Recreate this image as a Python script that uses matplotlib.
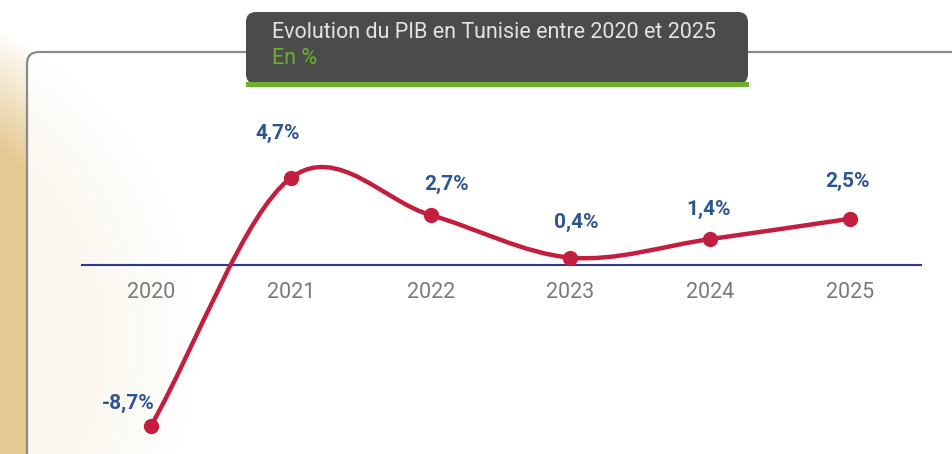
import numpy as np
import matplotlib
matplotlib.use("Agg")
import matplotlib.pyplot as plt
from matplotlib.patches import FancyBboxPatch, Rectangle, PathPatch
from matplotlib.path import Path

# data
years = [2020, 2021, 2022, 2023, 2024, 2025]
pib = [-8.7, 4.7, 2.7, 0.4, 1.4, 2.5]
labels = ["-8,7%", "4,7%", "2,7%", "0,4%", "1,4%", "2,5%"]
title = "Evolution du PIB en Tunisie entre 2020 et 2025"
subtitle = "En %"

# label offsets in pixels (dx, dy)
offsets = [(-23, 23), (-13, 45), (16, 31), (6, 35), (-2, 30), (-2, 37)]

W, H = 953, 454
plt.rcParams['font.family'] = ['Roboto', 'DejaVu Sans']
fig = plt.figure(figsize=(W / 100, H / 100), dpi=100)

# background decoration, pixel coordinates
bg = fig.add_axes([0, 0, 1, 1])
bg.set_xlim(0, W)
bg.set_ylim(H, 0)
bg.axis('off')

yy, xx = np.mgrid[0:H, 0:W]
d = np.hypot(xx + 150, yy - 340)
a = np.clip((345 - d) / 100.0, 0, 1)
tan = np.array([0.898, 0.792, 0.580])
img = np.ones((H, W, 3)) * (1 - a[..., None]) + tan * a[..., None]
bg.imshow(img, extent=(0, W, H, 0), zorder=0)

frame = FancyBboxPatch((27, 52), 1000, 500, boxstyle="round,pad=0,rounding_size=12",
                       fc=(1, 1, 1, 0.86), ec='#8a8a8a', lw=1.6, zorder=1)
bg.add_patch(frame)

tbox = FancyBboxPatch((246, 12), 502, 72, boxstyle="round,pad=0,rounding_size=10",
                      fc='#4c4b4c', ec='none', zorder=2)
bg.add_patch(tbox)
bg.add_patch(Rectangle((246, 82), 503, 5, fc='#6bb02e', ec='none', zorder=3))
bg.text(272, 32, title, color='#e4e4e4', fontsize=15.5, va='center', ha='left', zorder=4)
bg.text(272, 58, subtitle, color='#6bb02e', fontsize=15.5, va='center', ha='left', zorder=4)

# data axes, mapped so the points land where they should
ax = fig.add_axes([0, 0, 1, 1])
ax.patch.set_alpha(0)
ax.axis('off')
px_year = 139.8
px_unit = 18.5
ax.set_xlim(2020 - 151 / px_year, 2020 + (W - 151) / px_year)
ax.set_ylim(-(H - 265) / px_unit, 265 / px_unit)

ax.axhline(0, xmin=82 / W, xmax=921 / W, color='#2b3a8c', lw=1.5, zorder=2)

# smooth curve (catmull-rom as bezier)
x = np.array(years, dtype=float)
y = np.array(pib, dtype=float)
m = np.zeros_like(y)
m[1:-1] = (y[2:] - y[:-2]) / 2
m[0] = y[1] - y[0]
m[-1] = y[-1] - y[-2]
verts = [(x[0], y[0])]
codes = [Path.MOVETO]
for i in range(len(x) - 1):
    verts += [(x[i] + 1 / 3, y[i] + m[i] / 3),
              (x[i + 1] - 1 / 3, y[i + 1] - m[i + 1] / 3),
              (x[i + 1], y[i + 1])]
    codes += [Path.CURVE4] * 3
ax.add_patch(PathPatch(Path(verts, codes), fill=False, ec='#c41e3f', lw=3.2,
                       capstyle='round', joinstyle='round', zorder=3))
ax.plot(years, pib, 'o', color='#c41e3f', ms=10, zorder=4)

for yr, v, lab, (dx, dy) in zip(years, pib, labels, offsets):
    ax.annotate(lab, (yr, v), xytext=(dx, dy), textcoords='offset pixels',
                ha='center', va='center', fontsize=15, fontweight='bold',
                color='#2d5590', zorder=5)
    ax.annotate(str(yr), (yr, 0), xytext=(0, -28), textcoords='offset pixels',
                ha='center', va='center', fontsize=15.5, color='#7a7a7a', zorder=5)

fig.savefig("out.png", dpi=100)
